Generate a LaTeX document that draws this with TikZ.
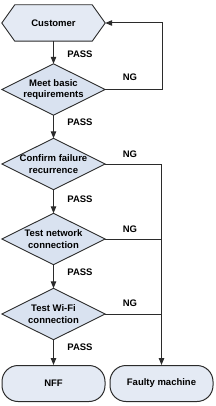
\documentclass[tikz,border=0pt]{standalone}
\usepackage{fontspec}
\setmainfont{Liberation Sans}
\usetikzlibrary{arrows.meta,backgrounds}
\definecolor{boxfill}{HTML}{E4EAF4}
\definecolor{diafill}{HTML}{D9E2F0}
\definecolor{edge}{HTML}{2B2B2B}
\begin{document}
\begin{tikzpicture}[x=1pt,y=-1pt,
  txt/.style={font=\bfseries\fontsize{9.5}{11.5}\selectfont, align=center, inner sep=0pt},
  blk/.style={txt, minimum width=103pt, minimum height=36pt},
  dia/.style={txt, minimum width=103pt, minimum height=51pt},
  term/.style={blk, draw=edge, line width=1pt, fill=boxfill, rounded corners=16pt},
  shp/.style={draw=edge, line width=0.9pt},
  conn/.style={draw=edge, line width=1pt, -{Triangle[length=7pt,width=5.5pt]}},
  lnk/.style={draw=edge, line width=1pt},
  lbl/.style={font=\bfseries\fontsize{9.5}{11}\selectfont, inner sep=0pt}]
\useasboundingbox (0,0) rectangle (216,406);
\node[blk] (cust) at (53.5,23) {Customer};
\node[dia] (d1) at (53.5,89.5) {Meet basic\\requirements};
\node[dia] (d2) at (53.5,164) {Confirm failure\\recurrence};
\node[dia] (d3) at (53.5,239) {Test network\\connection};
\node[dia] (d4) at (53.5,314) {Test Wi-Fi\\connection};
\node[term] (nff) at (53.5,383.5) {NFF};
\node[term] (faulty) at (161.5,383.5) {Faulty machine};
\begin{scope}[on background layer]
\draw[shp, fill=boxfill] (cust.west) -- ([xshift=13pt]cust.north west) -- ([xshift=-13pt]cust.north east) -- (cust.east) -- ([xshift=-13pt]cust.south east) -- ([xshift=13pt]cust.south west) -- cycle;
\foreach \d in {d1,d2,d3,d4}
  \draw[shp, fill=diafill] (\d.west) -- (\d.north) -- (\d.east) -- (\d.south) -- cycle;
\end{scope}
\coordinate (loop) at (162,89.5);
\path[conn] (cust.south) -- (d1.north);
\path[conn] (d1.south) -- (d2.north);
\path[conn] (d2.south) -- (d3.north);
\path[conn] (d3.south) -- (d4.north);
\path[conn] (d4.south) -- (nff.north);
\path[conn] (d1.east) -- (loop) |- (cust.east);
\path[conn] (d2.east) -| (faulty.north);
\path[lnk] (d3.east) -- (d3.east -| faulty.north);
\path[lnk] (d4.east) -- (d4.east -| faulty.north);
\node[lbl] (p1) at (80,54) {PASS};
\node[lbl] (p2) at (80,122) {PASS};
\node[lbl] (p3) at (80,199) {PASS};
\node[lbl] (p4) at (80,272) {PASS};
\node[lbl] (p5) at (80,347) {PASS};
\node[lbl] (n1) at (130,77) {NG};
\node[lbl] (n2) at (130,154) {NG};
\node[lbl] (n3) at (130,229) {NG};
\node[lbl] (n4) at (130,303) {NG};
\end{tikzpicture}
\end{document}
